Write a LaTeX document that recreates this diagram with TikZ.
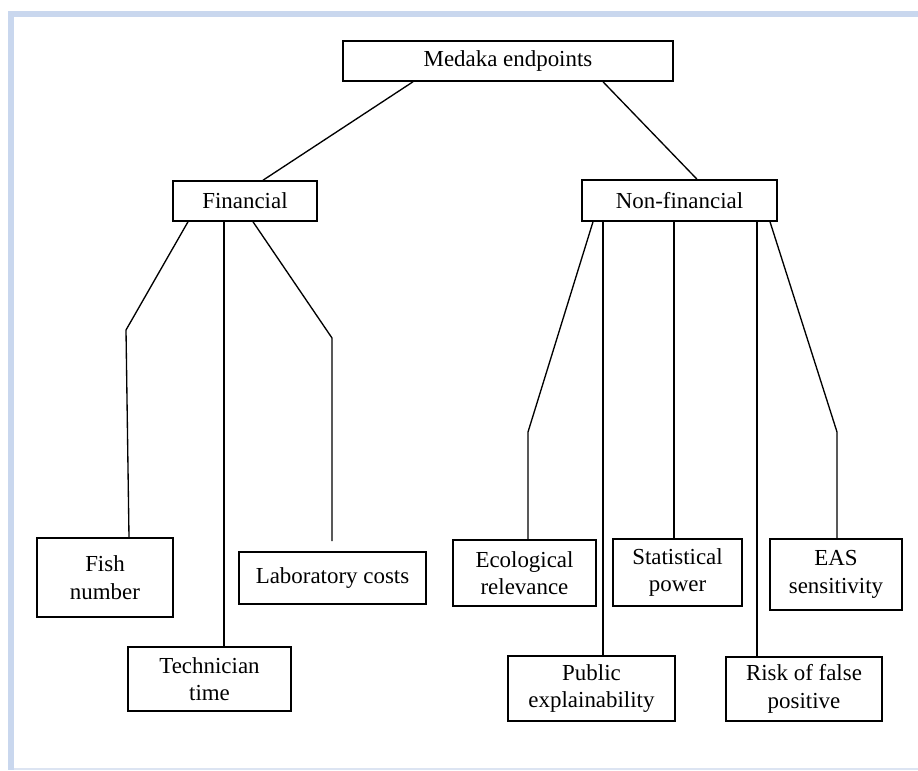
\documentclass[tikz,border=0pt]{standalone}
\usepackage{fontspec}
\setmainfont{Liberation Serif}
\usetikzlibrary{positioning}
\definecolor{frameblue}{HTML}{C9D7EE}
\definecolor{framepale}{HTML}{DCE4F2}

\begin{document}
\begin{tikzpicture}[x=0.025cm,y=-0.025cm,
        box/.style={draw,line width=1.1pt,inner sep=0pt,align=center,
            font=\fontsize{16.3}{19.5}\selectfont},
        link/.style={line width=0.95pt}]
    \useasboundingbox (0,0) rectangle (918,770);
    % frame
    \fill[frameblue] (8,11) rectangle (918,17);
    \fill[frameblue] (8,11) rectangle (14,770);
    \fill[framepale] (14,768) rectangle (918,770);
    % boxes
    \node[box,minimum width=330*0.025cm,minimum height=40*0.025cm] (n_root) at (508,61) {Medaka endpoints};
    \node[box,minimum width=144*0.025cm,minimum height=40*0.025cm] (n_fin) at (245,201) {Financial};
    \node[box,minimum width=195*0.025cm,minimum height=41*0.025cm] (n_nonfin) at (679.5,200.5) {Non-financial};
    \node[box,minimum width=136*0.025cm,minimum height=79*0.025cm] (n_fish) at (105,577.5) {Fish\\number};
    \node[box,minimum width=163*0.025cm,minimum height=64*0.025cm] (n_tech) at (209.5,679) {Technician\\time};
    \node[box,minimum width=187*0.025cm,minimum height=52*0.025cm] (n_lab) at (332.5,578) {Laboratory costs};
    \node[box,minimum width=143*0.025cm,minimum height=66*0.025cm] (n_eco) at (524.5,573) {Ecological\\relevance};
    \node[box,minimum width=167*0.025cm,minimum height=65*0.025cm] (n_pub) at (591.5,688.5) {Public\\explainability};
    \node[box,minimum width=129*0.025cm,minimum height=67*0.025cm] (n_stat) at (677.5,572.5) {Statistical\\power};
    \node[box,minimum width=156*0.025cm,minimum height=64*0.025cm] (n_risk) at (804,689) {Risk of false\\positive};
    \node[box,minimum width=132*0.025cm,minimum height=71*0.025cm] (n_eas) at (836,574.5) {EAS\\sensitivity};
    % connectors
    \draw[link] (413,0 |- n_root.south) -- (263,0 |- n_fin.north);
    \draw[link] (603,0 |- n_root.south) -- (697,0 |- n_nonfin.north);
    \draw[link] (188,0 |- n_fin.south) -- (126,330) -- (129,0 |- n_fish.north);
    \draw[link] (224,0 |- n_fin.south) -- (224,0 |- n_tech.north);
    \draw[link,shorten >=0.25cm] (253,0 |- n_fin.south) -- (332,338) -- (332,0 |- n_lab.north);
    \draw[link] (593,0 |- n_nonfin.south) -- (528,432) -- (528,0 |- n_eco.north);
    \draw[link] (603,0 |- n_nonfin.south) -- (603,0 |- n_pub.north);
    \draw[link] (674,0 |- n_nonfin.south) -- (674,0 |- n_stat.north);
    \draw[link] (757,0 |- n_nonfin.south) -- (757,0 |- n_risk.north);
    \draw[link] (770,0 |- n_nonfin.south) -- (837,432) -- (837,0 |- n_eas.north);
\end{tikzpicture}
\end{document}
